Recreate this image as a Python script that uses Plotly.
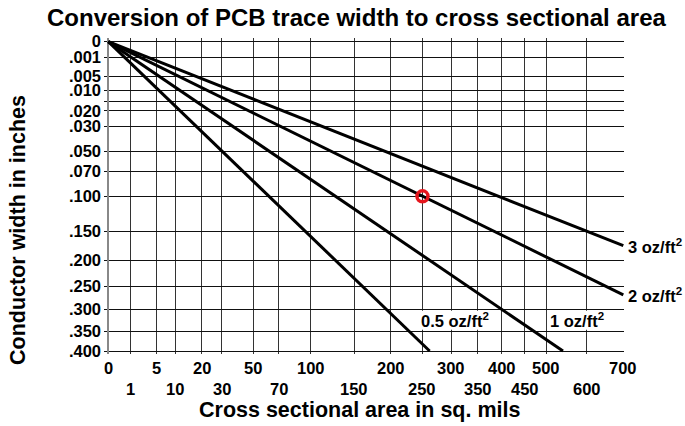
import plotly.graph_objects as go

# Axis values: cross sectional area (sq. mils) and conductor width (inches)
x_ticks_upper = [0, 5, 20, 50, 100, 200, 300, 400, 500, 700]
x_ticks_lower = [1, 10, 30, 70, 150, 250, 350, 450, 600]
y_ticks = [0, 0.001, 0.005, 0.010, 0.015, 0.020, 0.030, 0.050, 0.070,
           0.100, 0.150, 0.200, 0.250, 0.300, 0.350, 0.400]
y_labels = ["0", ".001", ".005", ".010", "", ".020", ".030", ".050", ".070",
            ".100", ".150", ".200", ".250", ".300", ".350", ".400"]

# Copper weight lines: end point of each line (width in inches, area in sq. mils)
weights = ["0.5 oz/ft<sup>2</sup>", "1 oz/ft<sup>2</sup>", "2 oz/ft<sup>2</sup>", "3 oz/ft<sup>2</sup>"]
end_width = [0.400, 0.400, 0.268, 0.174]
end_area = [262, 540, 700, 700]

# Worked example point
point_width = [0.100]
point_area = [250]

AREA_MAX = 700.0
WIDTH_MAX = 0.4


def sx(a):
    """Power scale used for the area axis."""
    return (a / AREA_MAX) ** 0.48


def sy(w):
    """Square-root scale used for the width axis."""
    return (w / WIDTH_MAX) ** 0.5


FONT = "Liberation Sans, Arial, Helvetica, sans-serif"
fig = go.Figure()

for name, w, a in zip(weights, end_width, end_area):
    fig.add_trace(go.Scatter(
        x=[sx(0), sx(a)], y=[sy(0), sy(w)], mode="lines",
        line=dict(color="black", width=3), name=name, showlegend=False,
        hoverinfo="skip"))

fig.add_trace(go.Scatter(
    x=[sx(a) for a in point_area], y=[sy(w) for w in point_width],
    mode="markers", showlegend=False,
    marker=dict(symbol="circle-open", size=11, color="#e5161d",
                line=dict(width=3.5, color="#e5161d"))))

# plot box geometry (pixels)
L, T, W, H = 104, 38, 520, 316
PX_X = 515.0   # pixels per unit of the area scale
PX_Y = 309.3   # pixels per unit of the width scale
x0 = -4.3 / PX_X
y0 = -3.7 / PX_Y

all_x = sorted(x_ticks_upper + x_ticks_lower)

fig.update_xaxes(
    range=[x0, x0 + W / PX_X], tickvals=[sx(v) for v in all_x],
    showticklabels=False, ticks="", showgrid=True, gridcolor="#333",
    gridwidth=1, zeroline=True, zerolinecolor="#888", zerolinewidth=2,
    showline=False, fixedrange=True)

tick_font = dict(family=FONT, size=16.5, color="black", weight="bold")

fig.update_yaxes(
    range=[y0 + H / PX_Y, y0], tickvals=[sy(v) for v in y_ticks],
    ticktext=y_labels, ticks="", ticklabelstandoff=2, tickfont=tick_font,
    showgrid=True, gridcolor="#111", gridwidth=1, zeroline=False,
    showline=False, fixedrange=True)

annotations = []
for v in x_ticks_upper:
    annotations.append(dict(x=sx(v), y=0, xref="x", yref="paper", text=str(v),
                            showarrow=False, yanchor="middle", yshift=-13.5,
                            font=tick_font))
for v in x_ticks_lower:
    annotations.append(dict(x=sx(v), y=0, xref="x", yref="paper", text=str(v),
                            showarrow=False, yanchor="middle", yshift=-34.5,
                            font=tick_font))

label_font = dict(family=FONT, size=16.5, color="black", weight="bold")
# labels at the right-hand ends of the 2 and 3 oz lines
for name, w, a in zip(weights[2:], end_width[2:], end_area[2:]):
    annotations.append(dict(x=sx(a), y=sy(w), xref="x", yref="y", text=name,
                            showarrow=False, xanchor="left", xshift=3,
                            yanchor="middle", font=label_font))

# labels of the 0.5 and 1 oz lines, inside the band between .300 and .350
band_mid = (sy(0.300) + sy(0.350)) / 2
annotations.append(dict(x=0.673, y=band_mid, xref="x", yref="y", text=weights[0],
                        showarrow=False, yanchor="middle", font=label_font))
annotations.append(dict(x=0.910, y=band_mid, xref="x", yref="y", text=weights[1],
                        showarrow=False, yanchor="middle", font=label_font))

annotations.append(dict(x=(356 - L) / W, y=(T + H - 17) / H, xref="paper", yref="paper",
                        text="Conversion of PCB trace width to cross sectional area",
                        showarrow=False, xanchor="center", yanchor="middle",
                        font=dict(family=FONT, size=24, color="black", weight="bold")))
annotations.append(dict(x=(359 - L) / W, y=0, xref="paper", yref="paper",
                        text="Cross sectional area in sq. mils", showarrow=False,
                        xanchor="center", yanchor="middle", yshift=-56,
                        font=dict(family=FONT, size=21.5, color="black", weight="bold")))
annotations.append(dict(x=(18 - L) / W, y=(T + H - 230) / H, xref="paper", yref="paper",
                        text="Conductor width in inches", showarrow=False, textangle=-90,
                        xanchor="center", yanchor="middle",
                        font=dict(family=FONT, size=21.5, color="black", weight="bold")))

# white backing behind the two lower line labels
inset = 1.2 / PX_Y
shapes = [
    dict(type="rect", xref="x", yref="y", x0=0.566, x1=0.7546,
         y0=sy(0.300) + inset, y1=sy(0.350) - inset,
         fillcolor="white", line=dict(width=0), layer="between"),
    dict(type="rect", xref="x", yref="y", x0=0.8518, x1=0.9682,
         y0=sy(0.300) + inset, y1=sy(0.350) - inset,
         fillcolor="white", line=dict(width=0), layer="between"),
]

fig.update_layout(
    width=685, height=426,
    margin=dict(l=L, r=685 - L - W, t=T, b=426 - T - H, pad=0),
    paper_bgcolor="white", plot_bgcolor="white",
    annotations=annotations, shapes=shapes, showlegend=False)

fig.write_html("out.html")
